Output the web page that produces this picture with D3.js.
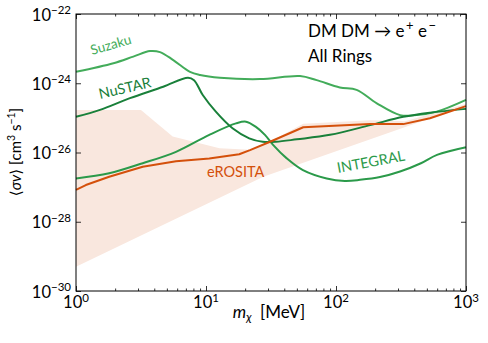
<!DOCTYPE html>
<html>
<head>
<meta charset="utf-8">
<script src="https://cdn.jsdelivr.net/npm/d3@7"></script>
<style>
html,body{margin:0;padding:0;background:#fff;}
svg{display:block;font-family:Lato,"DejaVu Sans",sans-serif;}
</style>
</head>
<body>
<svg id="chart" width="488" height="343"></svg>
<script>
// ---- data (mass in MeV, <sigma v> in cm^3 s^-1) ----
const suzakuM  = [1, 1.94, 2.76, 3.71, 4.43, 5.6, 7.53, 9.0, 12.8, 26, 52.9, 71, 107, 144, 206, 311, 418, 596, 1000];
const suzakuSV = [-23.67,-23.42,-23.23,-23.07,-23.10,-23.33,-23.67,-23.76,-23.84,-23.88,-23.79,-23.91,-24.12,-24.19,-24.58,-24.92,-24.92,-24.82,-24.48].map(v=>Math.pow(10,v));

const nustarM  = [1, 1.53, 2.6, 4.69, 7.27, 8.09, 9.44, 11.9, 16.0, 21.5, 27.3, 34.5, 49.9, 89.9, 183, 329, 528, 1000];
const nustarSV = [-24.97,-24.77,-24.43,-24.10,-23.84,-23.91,-24.34,-24.82,-25.30,-25.59,-25.69,-25.69,-25.62,-25.49,-25.21,-24.97,-24.85,-24.74].map(v=>Math.pow(10,v));

const integralM  = [1, 1.80, 3.26, 5.88, 10.6, 17.0, 20.3, 24.2, 28.4, 32.8, 41.8, 55.7, 84.8, 117, 153, 218, 311, 450, 598, 1000];
const integralSV = [-26.75,-26.60,-26.31,-25.98,-25.49,-25.16,-25.11,-25.26,-25.49,-25.78,-26.17,-26.51,-26.75,-26.82,-26.79,-26.71,-26.55,-26.31,-26.07,-25.85].map(v=>Math.pow(10,v));

const erositaM  = [1, 1.19, 1.80, 3.26, 5.88, 10.6, 18.0, 21.8, 31.1, 56.0, 183, 329, 528, 1000];
const erositaSV = [-27.08,-26.94,-26.70,-26.41,-26.25,-26.17,-26.05,-25.93,-25.69,-25.27,-25.18,-25.18,-25.01,-24.66].map(v=>Math.pow(10,v));

// shaded band: upper edge left->right, then lower edge right->left
const bandM  = [1, 3.16, 5.54, 12.7, 21.8, 30.0, 56, 183, 340, 1000, 1000, 350, 27.6, 1];
const bandSV = [-24.77,-24.77,-25.54,-25.88,-25.92,-25.72,-25.17,-25.07,-25.10,-24.60,-24.66,-25.25,-26.70,-29.30].map(v=>Math.pow(10,v));

const xTicks = [1, 10, 100, 1000];
const xTickExp = ["0","1","2","3"];
const yTicks = [1e-30, 1e-28, 1e-26, 1e-24, 1e-22];
const yTickExp = ["\u221230","\u221228","\u221226","\u221224","\u221222"];

// ---- layout ----
const L = 76, R = 466, T = 14, B = 291;
const svg = d3.select("#chart");
const x = d3.scaleLog().domain([1, 1000]).range([L, R]);
const y = d3.scaleLog().domain([1e-30, 1e-22]).range([B, T]);

const colSuzaku = "#43ac5a", colNustar = "#19803a", colIntegral = "#2b9a4a", colErosita = "#d4500b", colBand = "#f9e7de";

// band
const bandPts = bandM.map((m,i)=>[x(m), y(bandSV[i])]);
svg.append("path").attr("d", d3.line()(bandPts) + "Z").attr("fill", colBand).attr("stroke","none");

function drawLine(ms, svs, color, curve){
  const pts = ms.map((m,i)=>[x(m), y(svs[i])]);
  svg.append("path").attr("d", d3.line().curve(curve)(pts))
    .attr("fill","none").attr("stroke",color).attr("stroke-width",2).attr("stroke-linejoin","round");
}
drawLine(suzakuM, suzakuSV, colSuzaku, d3.curveCatmullRom.alpha(0.5));
drawLine(integralM, integralSV, colIntegral, d3.curveCatmullRom.alpha(0.5));
drawLine(nustarM, nustarSV, colNustar, d3.curveCatmullRom.alpha(0.5));
drawLine(erositaM, erositaSV, colErosita, d3.curveLinear);

// ---- axes ----
const minorX = [];
for (let d=1; d<1000; d*=10) for (let k=2;k<10;k++) minorX.push(d*k);

const gB = svg.append("g").attr("transform",`translate(0,${B})`)
  .call(d3.axisBottom(x).tickValues(xTicks).tickSize(-5).tickFormat(""));
const gBm = svg.append("g").attr("transform",`translate(0,${B})`)
  .call(d3.axisBottom(x).tickValues(minorX).tickSize(-2.5).tickFormat(""));
const gT = svg.append("g").attr("transform",`translate(0,${T})`)
  .call(d3.axisTop(x).tickValues(xTicks).tickSize(-5).tickFormat(""));
const gTm = svg.append("g").attr("transform",`translate(0,${T})`)
  .call(d3.axisTop(x).tickValues(minorX).tickSize(-2.5).tickFormat(""));
const gL = svg.append("g").attr("transform",`translate(${L},0)`)
  .call(d3.axisLeft(y).tickValues(yTicks).tickSize(-5).tickFormat(""));
const gR = svg.append("g").attr("transform",`translate(${R},0)`)
  .call(d3.axisRight(y).tickValues(yTicks).tickSize(-5).tickFormat(""));
[gB,gBm,gT,gTm,gL,gR].forEach(g=>{
  g.select(".domain").remove();
  g.selectAll("line").attr("stroke","#000").attr("stroke-width",0.8);
});
svg.append("rect").attr("x",L).attr("y",T).attr("width",R-L).attr("height",B-T)
  .attr("fill","none").attr("stroke","#000").attr("stroke-width",1);

// tick labels
xTicks.forEach((v,i)=>{
  const t = svg.append("text").attr("x",x(v)).attr("y",308).attr("text-anchor","middle")
    .attr("font-size",16.5).attr("fill","#000");
  t.append("tspan").text("10");
  t.append("tspan").attr("font-size",11.5).attr("dy",-6.5).text(xTickExp[i]);
});
yTicks.forEach((v,i)=>{
  const t = svg.append("text").attr("x",71).attr("y",y(v)+6.5).attr("text-anchor","end")
    .attr("font-size",16.5).attr("fill","#000");
  t.append("tspan").text("10");
  t.append("tspan").attr("font-size",11.5).attr("dy",-6.5).text(yTickExp[i]);
});

// axis titles
const xl = svg.append("text").attr("x",269).attr("y",318).attr("text-anchor","middle").attr("font-size",17).attr("fill","#000");
xl.append("tspan").attr("font-style","italic").text("m");
xl.append("tspan").attr("font-style","italic").attr("font-size",12).attr("dy",3).text("\u03c7");
xl.append("tspan").attr("dy",-3).text("\u2002[MeV]");

const yl = svg.append("text").attr("transform","translate(21,152) rotate(-90)").attr("text-anchor","middle").attr("font-size",15).attr("fill","#000");
yl.append("tspan").text("\u27e8");
yl.append("tspan").attr("font-style","italic").text("\u03c3v");
yl.append("tspan").text("\u27e9 [cm");
yl.append("tspan").attr("font-size",10.5).attr("dy",-6).text("3");
yl.append("tspan").attr("dy",6).text(" s");
yl.append("tspan").attr("font-size",10.5).attr("dy",-6).text("\u22121");
yl.append("tspan").attr("dy",6).text("]");

// curve labels
function label(txt, px, py, ang, color, size){
  svg.append("text").attr("transform",`translate(${px},${py}) rotate(${ang})`)
    .attr("font-size",size).attr("fill",color).text(txt);
}
label("Suzaku", 92, 55, -16, colSuzaku, 13.5);
label("NuSTAR", 100, 99, -13, colNustar, 14.5);
label("eROSITA", 207, 177, 0, colErosita, 14.5);
label("INTEGRAL", 338, 173, -10.5, colIntegral, 14.5);

// title
const tt = svg.append("text").attr("x",308).attr("y",37).attr("font-size",17).attr("fill","#000");
tt.append("tspan").text("DM DM \u2192 e");
tt.append("tspan").attr("font-size",13).attr("dy",-7).text("\u2009+");
tt.append("tspan").attr("dy",7).text(" e");
tt.append("tspan").attr("font-size",13).attr("dy",-7).text("\u2009\u2212");
svg.append("text").attr("x",308).attr("y",62).attr("font-size",17).attr("fill","#000").text("All Rings");
</script>
</body>
</html>
